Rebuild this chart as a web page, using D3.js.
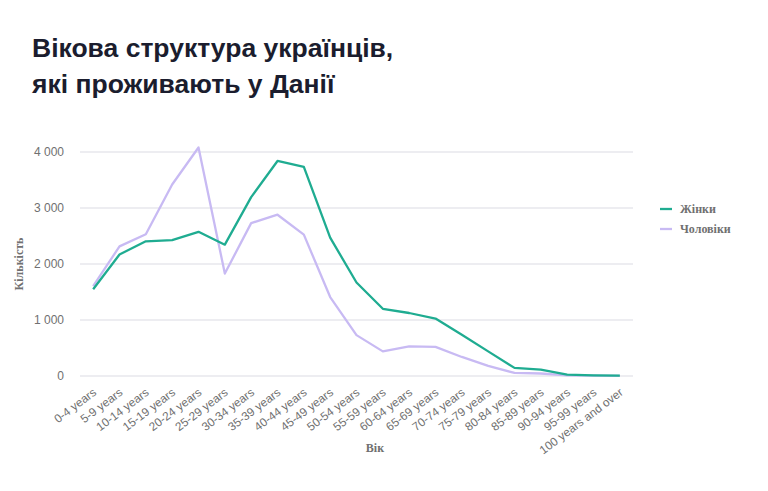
<!DOCTYPE html>
<html>
<head>
<meta charset="utf-8">
<script src="https://cdn.jsdelivr.net/npm/d3@7"></script>
<style>
  body { margin: 0; background: #fff; }
  svg { display: block; }
</style>
</head>
<body>
<div id="chart"></div>
<script>
// age groups and counts
const ageGroups = ['0-4 years', '5-9 years', '10-14 years', '15-19 years', '20-24 years',
  '25-29 years', '30-34 years', '35-39 years', '40-44 years', '45-49 years', '50-54 years',
  '55-59 years', '60-64 years', '65-69 years', '70-74 years', '75-79 years', '80-84 years',
  '85-89 years', '90-94 years', '95-99 years', '100 years and over'];
const women = [1550, 2170, 2405, 2425, 2575, 2345, 3195, 3840, 3735, 2470, 1670, 1200,
  1125, 1025, 735, 440, 145, 115, 25, 10, 5];
const men = [1605, 2315, 2530, 3420, 4080, 1830, 2730, 2880, 2525, 1410, 730, 440,
  530, 520, 340, 180, 55, 45, 12, 6, 3];
const yTicks = [0, 1000, 2000, 3000, 4000];
const seriesNames = ['Жінки', 'Чоловіки'];
const seriesColors = ['#1fac91', '#c8baf3'];

const width = 768, height = 491;
const svg = d3.select('#chart').append('svg')
  .attr('width', width)
  .attr('height', height);

// title
const title = svg.append('text')
  .attr('font-family', '"Liberation Sans", Arial, sans-serif')
  .attr('font-weight', 'bold')
  .attr('font-size', 26.5)
  .attr('fill', '#1b1d2e');
title.append('tspan').attr('x', 32).attr('y', 57).text('Вікова структура українців,');
title.append('tspan').attr('x', 32).attr('y', 93).text('які проживають у Данії');

const x = d3.scalePoint()
  .domain(ageGroups)
  .range([80, 633])
  .padding(0.5);

const y = d3.scaleLinear()
  .domain([0, 4000])
  .range([376, 152]);

// grid
svg.append('g')
  .selectAll('line')
  .data(yTicks)
  .enter()
  .append('line')
  .attr('x1', 80)
  .attr('x2', 633)
  .attr('y1', d => y(d))
  .attr('y2', d => y(d))
  .attr('stroke', '#dcdce3')
  .attr('stroke-width', 1.2);

// y tick labels
const fmt = d => d3.format(',')(d).replace(',', ' ');
svg.append('g')
  .selectAll('text')
  .data(yTicks)
  .enter()
  .append('text')
  .attr('x', 64)
  .attr('y', d => y(d) + 4)
  .attr('text-anchor', 'end')
  .attr('font-family', '"Liberation Sans", Arial, sans-serif')
  .attr('font-size', 12)
  .attr('fill', '#707070')
  .text(fmt);

// x tick labels, rotated
svg.append('g')
  .selectAll('text')
  .data(ageGroups)
  .enter()
  .append('text')
  .attr('transform', d => `translate(${x(d) + 4},${394}) rotate(-37)`)
  .attr('text-anchor', 'end')
  .attr('font-family', '"Liberation Sans", Arial, sans-serif')
  .attr('font-size', 11.8)
  .attr('fill', '#707070')
  .text(d => d);

// axis titles
svg.append('text')
  .attr('transform', 'translate(23,264) rotate(-90)')
  .attr('text-anchor', 'middle')
  .attr('font-family', '"Liberation Serif", "DejaVu Serif", serif')
  .attr('font-weight', 'bold')
  .attr('font-size', 12)
  .attr('fill', '#707070')
  .text('Кількість');

svg.append('text')
  .attr('x', 375)
  .attr('y', 452)
  .attr('text-anchor', 'middle')
  .attr('font-family', '"Liberation Serif", "DejaVu Serif", serif')
  .attr('font-weight', 'bold')
  .attr('font-size', 12)
  .attr('fill', '#707070')
  .text('Вік');

// lines
const line = d3.line()
  .x((d, i) => x(ageGroups[i]))
  .y(d => y(d));

[men, women].forEach((values, k) => {
  const idx = k === 0 ? 1 : 0;
  svg.append('path')
    .datum(values)
    .attr('d', line)
    .attr('fill', 'none')
    .attr('stroke', seriesColors[idx])
    .attr('stroke-width', 2.3)
    .attr('stroke-linejoin', 'round');
});

// legend
const legend = svg.append('g')
  .selectAll('g')
  .data(seriesNames)
  .enter()
  .append('g')
  .attr('transform', (d, i) => `translate(660,${209 + i * 20})`);

legend.append('line')
  .attr('x1', 0)
  .attr('x2', 12)
  .attr('stroke', (d, i) => seriesColors[i])
  .attr('stroke-width', 2.3);

legend.append('text')
  .attr('x', 20)
  .attr('y', 4)
  .attr('font-family', '"Liberation Serif", "DejaVu Serif", serif')
  .attr('font-weight', 'bold')
  .attr('font-size', 12)
  .attr('fill', '#707070')
  .text(d => d);
</script>
</body>
</html>
